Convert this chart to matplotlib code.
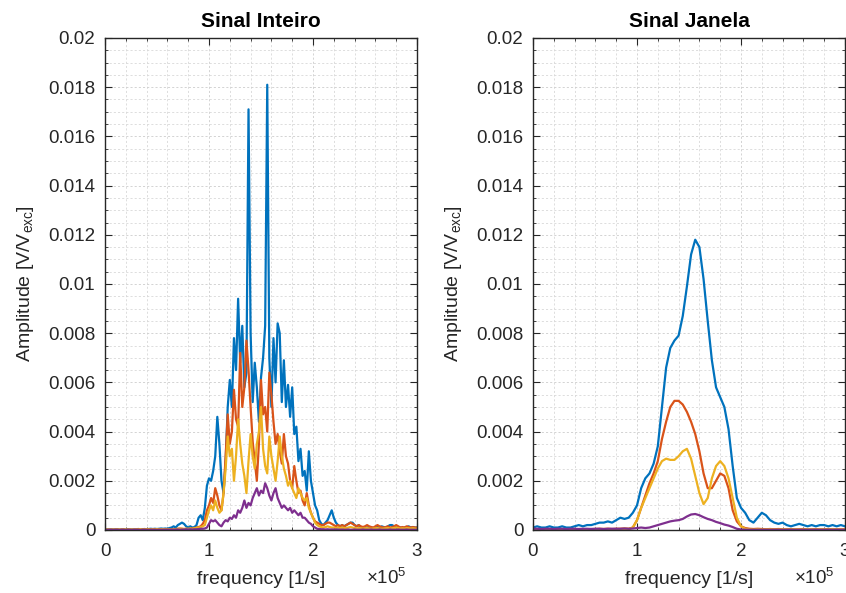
import numpy as np
import matplotlib
matplotlib.use("Agg")
import matplotlib.pyplot as plt
from matplotlib.ticker import MultipleLocator, FixedLocator

plt.rcParams['font.family'] = ['Liberation Sans', 'DejaVu Sans']
plt.rcParams['mathtext.fontset'] = 'custom'
plt.rcParams['mathtext.rm'] = 'Liberation Sans'
plt.rcParams['mathtext.it'] = 'Liberation Sans:italic'

# ---------------- data ----------------
# Left panel ("Sinal Inteiro"): frequency grid 0..300 kHz, 2 kHz step; amplitudes in 1e-3 V/Vexc
freq_left_khz = np.arange(0, 302, 2)

blue_left = [
    0.02,0.02,0.03,0.02,0.03,0.02,0.03,0.02,0.02,0.03, 0.02,0.03,0.02,0.03,0.02,0.03,0.04,0.03,0.03,0.04,
    0.03,0.04,0.05,0.04,0.05,0.04,0.05,0.06,0.05,0.06,
    0.05,0.08,0.1,0.15,0.1,0.2,0.25,0.3,0.25,0.15,
    0.1,0.15,0.1,0.12,0.2,0.5,0.6,0.4,0.9,1.8,
    2.1,2.0,2.4,3.0,4.6,3.5,2.0,1.5,2.8,5.0,
    6.1,5.0,7.8,6.5,9.4,6.8,8.3,5.8,6.4,17.1,
    8.0,5.2,6.8,5.8,4.4,6.2,7.0,8.3,18.1,7.0,
    5.0,7.8,6.0,8.4,8.0,5.2,6.9,5.0,5.9,4.6,
    5.8,3.9,4.2,2.8,3.3,2.2,2.4,1.6,3.2,2.0,
    1.5,1.0,0.8,0.4,0.25,0.2,0.3,0.4,0.6,0.8,
    0.5,0.3,0.2,0.15,0.2,0.15,
    0.2,0.25,0.3,0.3,0.2,0.15,0.2,0.1,0.12,0.1,
    0.1,0.12,0.1,0.08,0.1,0.12,0.1,0.15,0.12,0.1,
    0.15,0.2,0.2,0.15,0.1,0.12,0.1,0.08,0.1,0.12,
    0.15,0.1,0.12,0.1,0.1,
]

orange_left = [
    0.01,0.02,0.01,0.02,0.01,0.02,0.02,0.01,0.02,0.02, 0.01,0.02,0.02,0.01,0.02,0.02,0.03,0.02,0.02,0.03,
    0.02,0.03,0.02,0.03,0.03,0.02,0.03,0.03,0.02,0.03,
    0.02,0.03,0.02,0.04,0.03,0.05,0.06,0.05,0.04,0.05,
    0.04,0.05,0.06,0.08,0.1,0.12,0.15,0.25,0.4,0.8,
    1.0,1.3,1.1,1.7,1.4,1.0,0.8,1.5,3.0,4.7,
    3.5,4.0,5.7,4.5,4.2,7.2,5.0,5.8,7.7,6.5,
    5.0,3.6,2.8,2.0,3.5,6.1,4.7,5.0,4.0,6.4,
    5.5,4.4,3.5,3.9,3.2,2.7,3.9,3.0,2.7,2.0,
    1.7,2.6,2.0,1.5,1.6,1.2,1.0,1.5,1.0,0.7,
    0.5,0.35,0.3,0.25,0.2,0.2,0.25,0.3,0.3,0.25,
    0.2,0.15,0.2,0.15,0.2,0.15,
    0.2,0.25,0.3,0.25,0.2,0.15,0.2,0.15,0.12,0.15,
    0.2,0.15,0.12,0.1,0.15,0.2,0.15,0.12,0.1,0.12,
    0.15,0.1,0.12,0.15,0.2,0.15,0.1,0.12,0.1,0.15,
    0.12,0.1,0.12,0.1,0.1,
]

yellow_left = [
    0.01,0.01,0.02,0.01,0.02,0.01,0.02,0.02,0.01,0.02, 0.02,0.01,0.02,0.02,0.01,0.02,0.02,0.03,0.02,0.02,
    0.03,0.02,0.02,0.03,0.02,0.03,0.02,0.03,0.03,0.02,
    0.02,0.02,0.03,0.03,0.04,0.05,0.04,0.05,0.04,0.05,
    0.05,0.06,0.05,0.07,0.08,0.1,0.12,0.15,0.2,0.5,
    0.8,1.0,0.8,1.2,0.9,0.7,0.8,1.5,2.5,3.8,
    3.0,3.3,2.0,3.0,4.5,3.5,2.7,2.2,1.5,2.8,
    3.9,3.0,2.5,3.5,4.0,5.0,3.3,2.6,2.3,3.8,
    3.0,2.5,2.0,2.8,3.8,3.0,2.5,2.2,1.8,2.0,
    1.7,1.5,1.3,1.7,1.5,1.3,1.2,1.3,0.9,0.7,
    0.5,0.3,0.2,0.15,0.12,0.1,0.12,0.15,0.12,0.1,
    0.1,0.08,0.1,0.08,0.1,0.08,
    0.08,0.1,0.12,0.1,0.08,0.06,0.08,0.07,0.06,0.07,
    0.08,0.06,0.05,0.06,0.07,0.08,0.06,0.05,0.06,0.07,
    0.08,0.06,0.07,0.08,0.1,0.08,0.06,0.07,0.06,0.08,
    0.07,0.06,0.07,0.06,0.05,
]

purple_left = [
    0.01,0.0,0.01,0.01,0.0,0.01,0.01,0.0,0.01,0.01, 0.0,0.01,0.01,0.0,0.01,0.01,0.01,0.0,0.01,0.01,
    0.01,0.0,0.01,0.01,0.01,0.0,0.01,0.01,0.01,0.01,
    0.01,0.01,0.02,0.01,0.02,0.02,0.01,0.02,0.02,0.03,
    0.02,0.03,0.02,0.03,0.03,0.04,0.05,0.05,0.06,0.1,
    0.25,0.4,0.35,0.4,0.3,0.2,0.15,0.3,0.4,0.35,
    0.5,0.45,0.6,0.5,0.8,0.7,0.9,1.2,0.9,1.1,
    1.0,1.3,1.5,1.7,1.4,1.6,1.5,1.9,1.7,1.4,
    1.2,1.5,1.7,1.3,1.1,0.9,1.0,0.9,0.8,0.9,
    0.7,0.8,0.7,0.6,0.7,0.5,0.5,0.4,0.3,0.25,
    0.15,0.1,0.05,0.04,0.03,0.03,0.02,0.03,0.02,0.02,
    0.02,0.02,0.02,0.01,0.02,0.01,
    0.01,0.02,0.01,0.01,0.02,0.01,0.01,0.01,0.02,0.01,
    0.01,0.01,0.02,0.01,0.01,0.01,0.02,0.01,0.01,0.01,
    0.01,0.02,0.01,0.01,0.01,0.02,0.01,0.01,0.01,0.02,
    0.01,0.01,0.01,0.01,0.01,
]

# Right panel ("Sinal Janela"): frequency grid 0..300 kHz, 4 kHz step; amplitudes in 1e-3 V/Vexc
freq_right_khz = np.arange(0, 304, 4)

blue_right = [
    0.1,0.15,0.1,0.1,0.15,0.1,0.1,0.15,0.1,0.1,
    0.15,0.2,0.15,0.2,0.2,0.25,0.3,0.3,0.35,0.3,
    0.4,0.5,0.45,0.5,0.7,1.0,1.7,2.1,2.3,2.7,
    3.4,5.0,6.6,7.4,7.7,7.9,8.7,9.9,11.2,11.8,
    11.5,10.2,8.5,6.9,5.8,5.4,5.0,4.1,2.6,1.3,
    0.9,0.7,0.4,0.3,0.5,0.7,0.6,0.4,0.3,0.25,
    0.3,0.2,0.15,0.2,0.25,0.2,0.15,0.2,0.15,0.2,
    0.2,0.15,0.2,0.15,0.2,0.15,
]

orange_right = [
    0.02,0.03,0.02,0.03,0.02,0.03,0.03,0.02,0.03,0.03,
    0.04,0.03,0.04,0.03,0.04,0.04,0.05,0.04,0.05,0.04,
    0.05,0.05,0.06,0.05,0.1,0.4,0.9,1.4,1.9,2.3,
    2.8,3.7,4.4,5.0,5.25,5.25,5.1,4.8,4.4,3.9,
    3.2,2.3,1.7,1.7,2.0,2.3,2.2,1.7,0.8,0.35,
    0.15,0.08,0.05,0.04,0.05,0.04,0.03,0.04,0.03,0.04,
    0.03,0.03,0.04,0.03,0.03,0.04,0.03,0.03,0.04,0.03,
    0.03,0.04,0.03,0.03,0.03,0.03,
]

yellow_right = [
    0.02,0.02,0.03,0.02,0.03,0.02,0.02,0.03,0.02,0.03,
    0.03,0.02,0.03,0.03,0.03,0.04,0.03,0.04,0.04,0.03,
    0.04,0.04,0.05,0.04,0.1,0.4,0.9,1.3,1.7,2.1,
    2.5,2.8,2.9,2.85,2.85,3.0,3.2,3.3,2.9,2.2,
    1.5,1.05,1.3,2.1,2.6,2.8,2.6,2.1,1.3,0.5,
    0.15,0.05,0.03,0.02,0.03,0.02,0.02,0.03,0.02,0.02,
    0.03,0.02,0.02,0.03,0.02,0.02,0.03,0.02,0.02,0.03,
    0.02,0.02,0.03,0.02,0.02,0.02,
]

purple_right = [
    0.05,0.05,0.04,0.05,0.05,0.04,0.05,0.05,0.04,0.05,
    0.05,0.04,0.05,0.05,0.04,0.05,0.05,0.04,0.05,0.05,
    0.05,0.05,0.06,0.05,0.06,0.08,0.1,0.08,0.1,0.15,
    0.2,0.25,0.3,0.35,0.38,0.4,0.45,0.55,0.63,0.65,
    0.6,0.52,0.45,0.4,0.33,0.28,0.22,0.18,0.12,0.05,
    0.02,0.01,0.01,0.01,0.01,0.01,0.01,0.01,0.01,0.01,
    0.01,0.01,0.01,0.01,0.01,0.01,0.01,0.01,0.01,0.01,
    0.01,0.01,0.01,0.01,0.01,0.01,
]

colors = ['#0072BD', '#D95319', '#EDB120', '#7E2F8E']
titles = ['Sinal Inteiro', 'Sinal Janela']
xtick_vals = [0, 1e5, 2e5, 3e5]
xtick_labels = ['0', '1', '2', '3']
ytick_vals = np.arange(0, 0.0201, 0.002)
ytick_labels = ['0', '0.002', '0.004', '0.006', '0.008', '0.01',
                '0.012', '0.014', '0.016', '0.018', '0.02']

# ---------------- figure ----------------
W, H = 846, 593
fig = plt.figure(figsize=(W / 100, H / 100), dpi=100)
fig.patch.set_facecolor('white')

axL = fig.add_axes([105 / W, (H - 530) / H, 312 / W, 492 / H])
axR = fig.add_axes([533 / W, (H - 530) / H, 312 / W, 492 / H])

panels = [
    (axL, freq_left_khz, [blue_left, orange_left, yellow_left, purple_left]),
    (axR, freq_right_khz, [blue_right, orange_right, yellow_right, purple_right]),
]

txt = '#262626'
for i, (ax, fk, series) in enumerate(panels):
    f = np.asarray(fk, dtype=float) * 1e3
    for s, c in zip(series, colors):
        ax.plot(f, np.asarray(s) * 1e-3, color=c, lw=1.6, solid_joinstyle='round')
    ax.set_xlim(0, 3e5)
    ax.set_ylim(0, 0.02)
    ax.xaxis.set_major_locator(FixedLocator(xtick_vals))
    ax.set_xticklabels(xtick_labels)
    ax.yaxis.set_major_locator(FixedLocator(ytick_vals))
    ax.set_yticklabels(ytick_labels)
    ax.xaxis.set_minor_locator(MultipleLocator(2e4))
    ax.yaxis.set_minor_locator(MultipleLocator(0.0005))
    ax.grid(which='major', color='#cccccc', linestyle=(0, (2.5, 2.5)), lw=0.6)
    ax.grid(which='minor', color='#d8d8d8', linestyle=(0, (2.5, 2.5)), lw=0.6)
    ax.set_axisbelow(True)
    ax.tick_params(which='both', direction='in', top=True, right=True,
                   colors=txt, labelcolor=txt, labelsize=13.5)
    ax.tick_params(which='major', length=5, width=0.8)
    ax.tick_params(axis='x', which='major', pad=9)
    ax.tick_params(axis='y', which='major', pad=7)
    ax.tick_params(which='minor', length=2.5, width=0.6)
    for sp in ax.spines.values():
        sp.set_color(txt)
        sp.set_linewidth(1.0)
    ax.set_title(titles[i], fontsize=15, fontweight='bold', color='black', pad=8)
    ax.set_xlabel('frequency [1/s]', fontsize=14, color=txt, labelpad=8)
    ax.set_ylabel('Amplitude [V/V$_{\\rm exc}$]', fontsize=14, color=txt, labelpad=9)
    ax.text(0.835, -0.098, '$\\times$10$^{5}$', transform=ax.transAxes,
            fontsize=13.5, color=txt, ha='left', va='center')

fig.savefig('out.png', dpi=100, facecolor='white')
